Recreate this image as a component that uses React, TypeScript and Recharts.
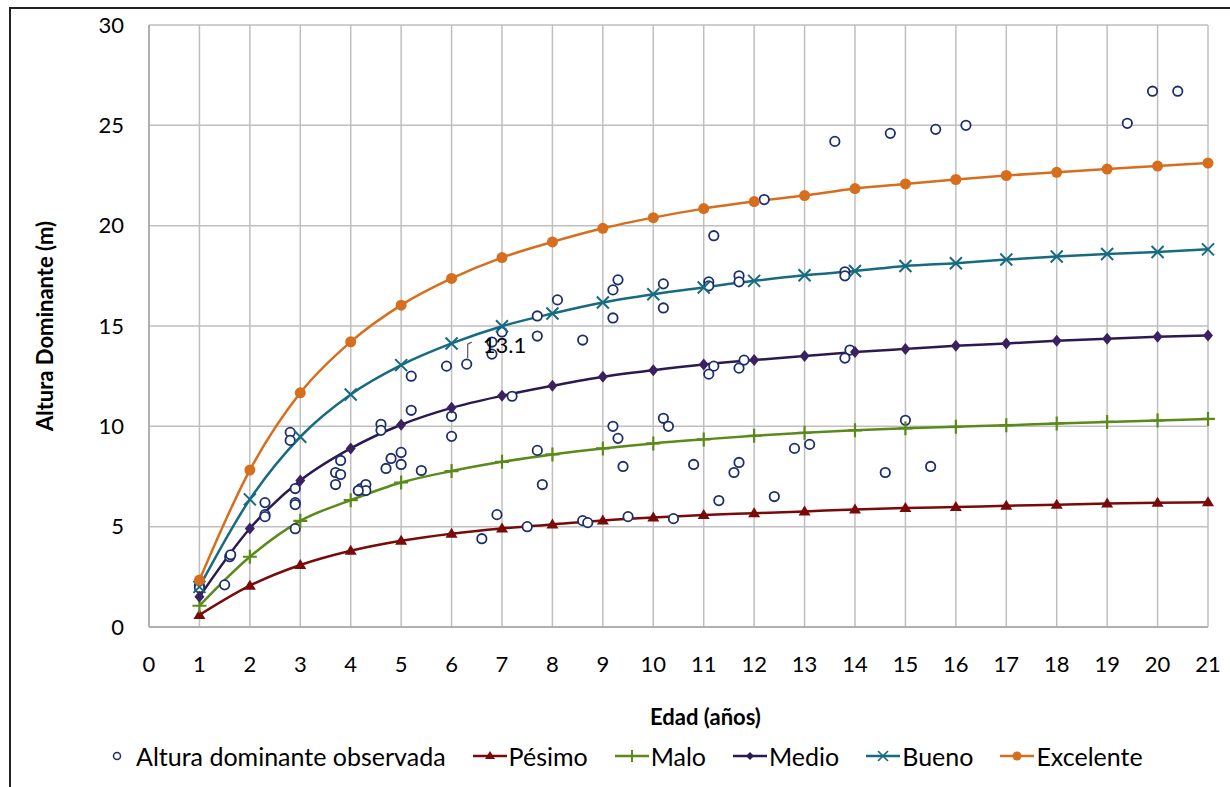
import React from 'react';
import { ComposedChart, Line, Scatter, XAxis, YAxis, CartesianGrid, LabelList } from 'recharts';

const ages = [1, 2, 3, 4, 5, 6, 7, 8, 9, 10, 11, 12, 13, 14, 15, 16, 17, 18, 19, 20, 21];

const pesimo = [0.6, 2.06, 3.09, 3.8, 4.3, 4.65, 4.91, 5.11, 5.31, 5.46, 5.58, 5.67, 5.76, 5.86, 5.93, 5.98, 6.04, 6.09, 6.15, 6.19, 6.22];
const malo = [1.06, 3.5, 5.29, 6.32, 7.2, 7.77, 8.23, 8.6, 8.9, 9.15, 9.35, 9.53, 9.68, 9.8, 9.9, 9.98, 10.05, 10.14, 10.22, 10.29, 10.37];
const medio = [1.51, 4.91, 7.3, 8.9, 10.08, 10.92, 11.52, 12.02, 12.47, 12.8, 13.08, 13.3, 13.5, 13.7, 13.86, 14.01, 14.13, 14.26, 14.37, 14.46, 14.53];
const bueno = [2.0, 6.36, 9.48, 11.59, 13.05, 14.13, 14.99, 15.62, 16.17, 16.58, 16.92, 17.25, 17.53, 17.74, 17.99, 18.13, 18.31, 18.46, 18.59, 18.69, 18.82];
const excelente = [2.34, 7.82, 11.67, 14.21, 16.04, 17.37, 18.41, 19.19, 19.87, 20.4, 20.85, 21.2, 21.5, 21.85, 22.08, 22.3, 22.5, 22.66, 22.82, 22.97, 23.12];

// observed dominant height (age, height)
const obsAge = [
  1.0, 1.0, 1.5, 1.6, 1.62, 2.3, 2.3, 2.3, 2.8, 2.8, 2.9, 2.9, 2.9, 2.9, 3.7, 3.8, 3.8, 3.7, 4.2, 4.3,
  4.3, 4.15, 4.6, 4.6, 4.8, 4.7, 5.0, 5.0, 5.4, 6.0, 5.2, 5.2, 5.9, 6.0, 6.3, 6.8, 6.8, 7.0, 7.7, 7.7,
  8.1, 8.6, 7.2, 9.2, 9.3, 9.2, 10.2, 10.2, 11.2, 11.1, 11.1, 11.7, 11.7, 11.2, 11.1, 11.7, 11.8, 9.2, 9.3, 10.2,
  10.3, 7.7, 7.8, 9.4, 10.8, 11.7, 11.6, 11.3, 12.4, 6.9, 6.6, 7.5, 8.6, 8.7, 9.5, 10.4, 13.9, 13.8, 15.0, 12.8,
  13.1, 14.6, 15.5, 13.8, 13.8, 13.6, 14.7, 15.6, 16.2, 19.4, 19.9, 20.4, 12.2,
];
const obsHeight = [
  2.05, 1.95, 2.1, 3.5, 3.6, 6.2, 5.6, 5.5, 9.7, 9.3, 6.9, 6.2, 6.1, 4.9, 7.7, 8.3, 7.6, 7.1, 6.9, 7.1,
  6.8, 6.8, 10.1, 9.8, 8.4, 7.9, 8.7, 8.1, 7.8, 9.5, 12.5, 10.8, 13.0, 10.5, 13.1, 14.2, 13.6, 14.7, 15.5, 14.5,
  16.3, 14.3, 11.5, 16.8, 17.3, 15.4, 17.1, 15.9, 19.5, 17.2, 17.0, 17.5, 17.2, 13.0, 12.6, 12.9, 13.3, 10.0, 9.4, 10.4,
  10.0, 8.8, 7.1, 8.0, 8.1, 8.2, 7.7, 6.3, 6.5, 5.6, 4.4, 5.0, 5.3, 5.2, 5.5, 5.4, 13.8, 13.4, 10.3, 8.9,
  9.1, 7.7, 8.0, 17.7, 17.5, 24.2, 24.6, 24.8, 25.0, 25.1, 26.7, 26.7, 21.3,
];
const labeledIndex = 34;

const xTicks = [0, 1, 2, 3, 4, 5, 6, 7, 8, 9, 10, 11, 12, 13, 14, 15, 16, 17, 18, 19, 20, 21];
const yTicks = [0, 5, 10, 15, 20, 25, 30];

const FONT = 'Lato, "Open Sans", sans-serif';

const C = {
  obs: '#1c2f6b',
  pesimo: '#7a0a0a',
  malo: '#5a8a1a',
  medio: '#2b1a52',
  bueno: '#176b80',
  excelente: '#d76e1e',
};

const toRows = (vals: number[]) => ages.map((a, i) => ({ age: a, value: vals[i] }));
const obsRows = obsAge.map((a, i) => ({ age: a, height: obsHeight[i] }));

const Triangle = (p: any) => (
  <polygon key={`t${p.index}`} points={`${p.cx},${p.cy - 6} ${p.cx - 6},${p.cy + 4} ${p.cx + 6},${p.cy + 4}`} fill={C.pesimo} />
);
const Plus = (p: any) => (
  <path key={`p${p.index}`} d={`M${p.cx - 7},${p.cy}H${p.cx + 7}M${p.cx},${p.cy - 7}V${p.cy + 7}`} stroke={C.malo} strokeWidth={2.2} />
);
const Diamond = (p: any) => (
  <polygon key={`d${p.index}`} points={`${p.cx},${p.cy - 6} ${p.cx + 5},${p.cy} ${p.cx},${p.cy + 6} ${p.cx - 5},${p.cy}`} fill="#3a2260" />
);
const Cross = (p: any) => (
  <path key={`x${p.index}`} d={`M${p.cx - 6},${p.cy - 6}L${p.cx + 6},${p.cy + 6}M${p.cx - 6},${p.cy + 6}L${p.cx + 6},${p.cy - 6}`} stroke={C.bueno} strokeWidth={2} />
);
const Dot = (p: any) => <circle key={`c${p.index}`} cx={p.cx} cy={p.cy} r={5.5} fill={C.excelente} />;

const ObsCircle = (p: any) => <circle cx={p.cx} cy={p.cy} r={4.7} fill="#fff" stroke={C.obs} strokeWidth={1.8} />;

const PointLabel = (p: any) => {
  if (p.index !== labeledIndex) return null;
  const cx = p.x + p.width / 2;
  const cy = p.y + p.height / 2;
  return (
    <g>
      <path d={`M${cx + 1},${cy - 6}V${cy - 20}L${cx + 5},${cy - 22}`} stroke="#595959" strokeWidth={1.2} fill="none" />
      <text x={cx + 16} y={cy - 11} fontSize={22} fontFamily={FONT} fill="#000">
        {obsHeight[labeledIndex].toFixed(1)}
      </text>
    </g>
  );
};

const legendItems = [
  { name: 'Pésimo', color: C.pesimo, shape: 'tri' },
  { name: 'Malo', color: C.malo, shape: 'plus' },
  { name: 'Medio', color: C.medio, shape: 'dia' },
  { name: 'Bueno', color: C.bueno, shape: 'x' },
  { name: 'Excelente', color: C.excelente, shape: 'dot' },
];

const LegendIcon = ({ shape, color }: { shape: string; color: string }) => (
  <svg width={34} height={20} style={{ display: 'block', marginRight: 2 }}>
    <line x1={0} y1={10} x2={34} y2={10} stroke={color} strokeWidth={2.5} />
    {shape === 'tri' && <polygon points="17,5 12,13 22,13" fill={color} />}
    {shape === 'plus' && <path d="M11,10H23M17,4V16" stroke={color} strokeWidth={2} />}
    {shape === 'dia' && <polygon points="17,6 21,10 17,14 13,10" fill={color} />}
    {shape === 'x' && <path d="M12,5L22,15M12,15L22,5" stroke={color} strokeWidth={1.6} />}
    {shape === 'dot' && <circle cx={17} cy={10} r={4.5} fill={color} />}
  </svg>
);

export default function App() {
  return (
    <div style={{ position: 'absolute', left: 0, top: 0, width: 1230, height: 787, background: '#fff', overflow: 'hidden' }}>
      <div style={{ position: 'absolute', left: 9, top: 7, width: 1240, height: 800, borderLeft: '2px solid #222', borderTop: '2px solid #222' }} />
      <ComposedChart width={1230} height={787} margin={{ top: 25, right: 22, bottom: 60, left: 0 }} style={{ position: 'absolute', left: 0, top: 0 }}>
        <CartesianGrid stroke="#bfbfbf" strokeWidth={1.5} />
        <XAxis
          type="number"
          dataKey="age"
          domain={[0, 21]}
          ticks={xTicks}
          interval={0}
          height={100}
          axisLine={{ stroke: '#a6a6a6', strokeWidth: 1.5 }}
          tickLine={false}
          tickSize={0}
          tickMargin={29}
          tick={{ fill: '#000', fontSize: 22, fontFamily: FONT }}
          label={{ value: 'Edad (años)', position: 'insideBottom', offset: 2, dx: 27, style: { fontWeight: 'bold', fontSize: 22, fontFamily: FONT, fill: '#000' } }}
        />
        <YAxis
          type="number"
          domain={[0, 30]}
          ticks={yTicks}
          interval={0}
          width={149}
          axisLine={{ stroke: '#a6a6a6', strokeWidth: 1.5 }}
          tickLine={false}
          tickSize={0}
          tickMargin={25}
          tick={{ fill: '#000', fontSize: 22, fontFamily: FONT }}
          label={{ value: 'Altura Dominante (m)', angle: -90, position: 'insideLeft', offset: 45, style: { textAnchor: 'middle', fontWeight: 'bold', fontSize: 22, fontFamily: FONT, fill: '#000' } }}
        />
        <Scatter data={obsRows} dataKey="height" shape={ObsCircle} isAnimationActive={false}>
          <LabelList dataKey="height" content={PointLabel} />
        </Scatter>
        <Line data={toRows(pesimo)} dataKey="value" type="monotone" stroke={C.pesimo} strokeWidth={2.5} dot={Triangle} activeDot={false} isAnimationActive={false} />
        <Line data={toRows(malo)} dataKey="value" type="monotone" stroke={C.malo} strokeWidth={2.5} dot={Plus} activeDot={false} isAnimationActive={false} />
        <Line data={toRows(medio)} dataKey="value" type="monotone" stroke={C.medio} strokeWidth={2.5} dot={Diamond} activeDot={false} isAnimationActive={false} />
        <Line data={toRows(bueno)} dataKey="value" type="monotone" stroke={C.bueno} strokeWidth={2.5} dot={Cross} activeDot={false} isAnimationActive={false} />
        <Line data={toRows(excelente)} dataKey="value" type="monotone" stroke={C.excelente} strokeWidth={2.5} dot={Dot} activeDot={false} isAnimationActive={false} />
      </ComposedChart>
      <div style={{ position: 'absolute', left: 108, top: 741, display: 'flex', alignItems: 'center', fontFamily: FONT, fontSize: 25, color: '#000', whiteSpace: 'nowrap' }}>
        <svg width={18} height={20} style={{ display: 'block', marginRight: 10 }}>
          <circle cx={9} cy={10} r={3.5} fill="#fff" stroke={C.obs} strokeWidth={1.5} />
        </svg>
        <span style={{ marginRight: 27 }}>Altura dominante observada</span>
        {legendItems.map((it) => (
          <div key={it.name} style={{ display: 'flex', alignItems: 'center', marginRight: 27 }}>
            <LegendIcon shape={it.shape} color={it.color} />
            <span>{it.name}</span>
          </div>
        ))}
      </div>
    </div>
  );
}
